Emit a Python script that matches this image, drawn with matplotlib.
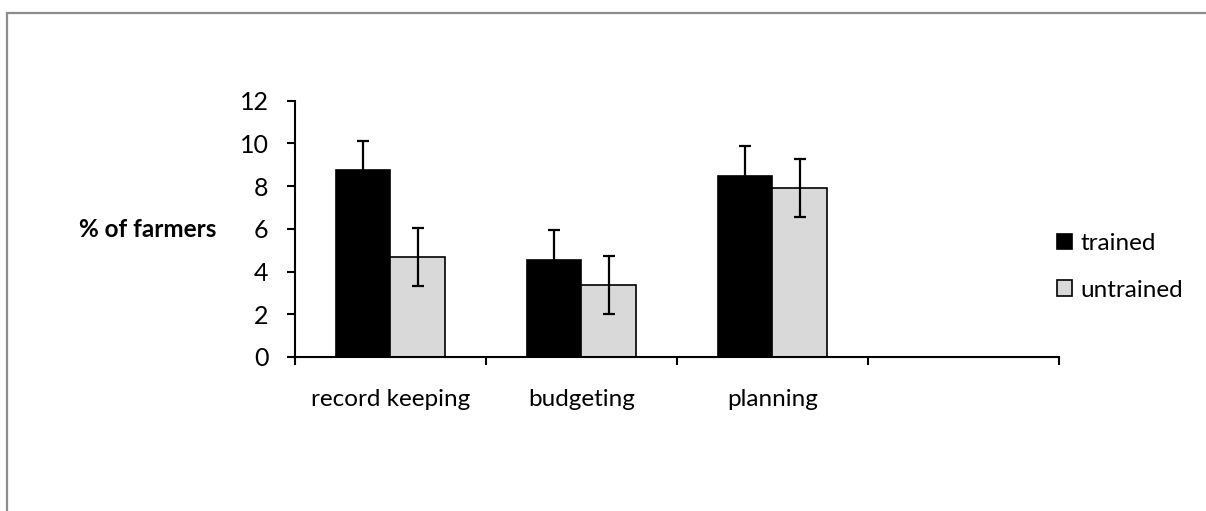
import matplotlib.pyplot as plt
import numpy as np
from matplotlib.patches import Rectangle

# Values
categories = ["record keeping", "budgeting", "planning", ""]
trained = [8.74, 4.54, 8.49]
trained_err = [1.38, 1.39, 1.41]
untrained = [4.68, 3.36, 7.92]
untrained_err = [1.37, 1.37, 1.35]
y_ticks = [0, 2, 4, 6, 8, 10, 12]

plt.rcParams['font.family'] = ['Lato', 'DejaVu Sans']

fig = plt.figure(figsize=(12.06, 5.11), dpi=100)
ax = fig.add_axes([0.2446, 0.3014, 0.8779 - 0.2446, 0.5015])

# Gray frame, only left and top edges visible
fig.patches.append(Rectangle((0.0062, -0.2), 1.5, 0.9736 + 0.2,
                             transform=fig.transFigure, fill=False,
                             edgecolor='#8c8c8c', linewidth=1.6))

x = np.arange(len(trained))
w = 0.285
err_kw = dict(ecolor='black', elinewidth=1.6, capsize=4, capthick=1.6)

ax.bar(x - w / 2, trained, w, yerr=trained_err, color='black',
       edgecolor='black', linewidth=1.2, error_kw=err_kw, label='trained')
ax.bar(x + w / 2, untrained, w, yerr=untrained_err, color='#d9d9d9',
       edgecolor='black', linewidth=1.2, error_kw=err_kw, label='untrained')

ax.set_xlim(-0.5, len(categories) - 0.5)
ax.set_ylim(0, 12)
ax.set_yticks(y_ticks)

# Boundary ticks without labels, labels centered on categories
ax.set_xticks(np.arange(len(categories) + 1) - 0.5)
ax.set_xticklabels([])
ax.set_xticks(np.arange(len(categories)), minor=True)
ax.set_xticklabels(categories, minor=True)
ax.tick_params(axis='x', which='minor', length=0, pad=23, labelsize=17.5)
ax.tick_params(axis='x', which='major', length=6, width=1.5)
ax.tick_params(axis='y', length=6, width=1.5, pad=13, labelsize=18)

for side in ['top', 'right']:
    ax.spines[side].set_visible(False)
for side in ['left', 'bottom']:
    ax.spines[side].set_linewidth(1.5)

fig.text(0.1797, 0.55, "% of farmers", ha='right', va='center',
         fontsize=17.5, fontweight='bold')

ax.legend(loc='center left', bbox_to_anchor=(0.8765, 0.478),
          bbox_transform=fig.transFigure, frameon=False, fontsize=17.5,
          handlelength=0.6, handleheight=0.6, handletextpad=0.35,
          labelspacing=1.05, borderpad=0, borderaxespad=0)

fig.savefig('out.png', dpi=100)
